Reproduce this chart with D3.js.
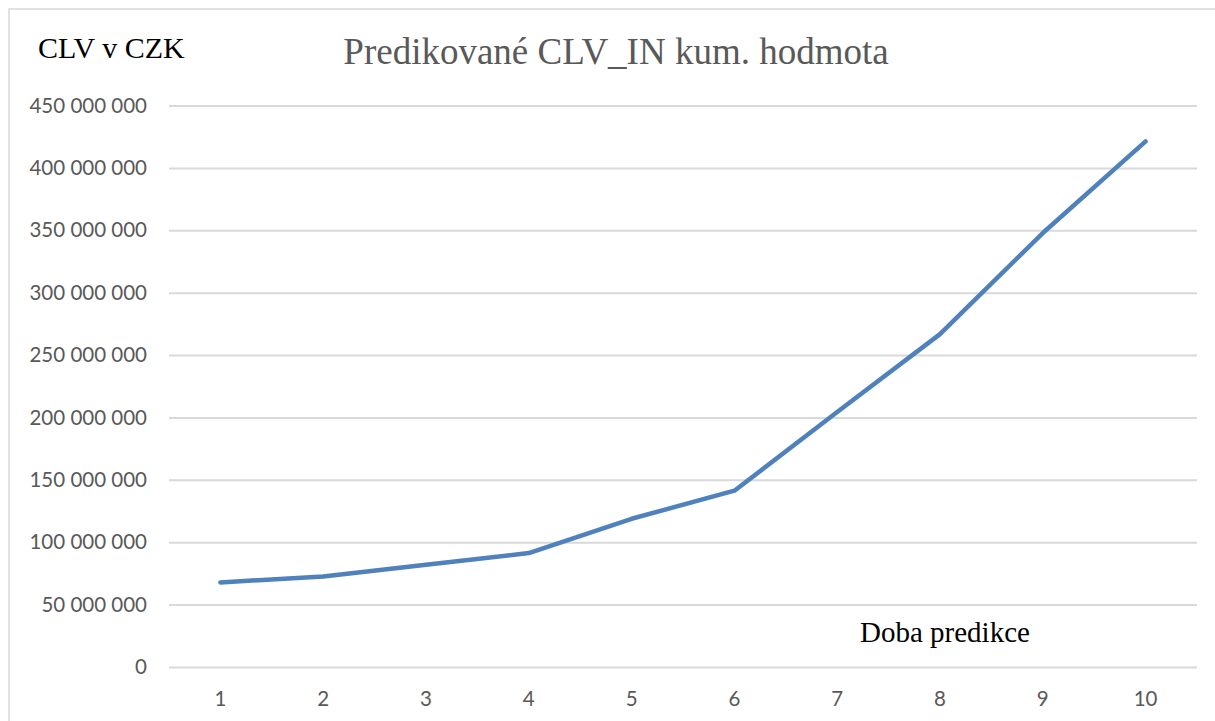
<!DOCTYPE html>
<html>
<head>
<meta charset="utf-8">
<script src="https://cdn.jsdelivr.net/npm/d3@7"></script>
<style>
  body { margin: 0; background: #fff; }
  .tick text { font-family: Lato, "Open Sans", sans-serif; fill: #595959; }
</style>
</head>
<body>
<div id="chart"></div>
<script>
// chart data
var periods = [1, 2, 3, 4, 5, 6, 7, 8, 9, 10];
var clvValues = [67800000, 72600000, 82000000, 91300000, 118800000, 141300000, 204300000, 266800000, 347800000, 421200000];
var yTicks = [0, 50000000, 100000000, 150000000, 200000000, 250000000, 300000000, 350000000, 400000000, 450000000];

var svgWidth = 1215;
var svgHeight = 721;

var margin = { top: 105.5, right: 18, bottom: 54, left: 169 };
var chartWidth = svgWidth - margin.left - margin.right;
var chartHeight = svgHeight - margin.top - margin.bottom;

var svg = d3.select("#chart").append("svg")
    .attr("width", svgWidth)
    .attr("height", svgHeight);

// outer frame
svg.append("rect")
    .attr("x", 9)
    .attr("y", 9)
    .attr("width", svgWidth + 20)
    .attr("height", svgHeight + 20)
    .attr("fill", "none")
    .attr("stroke", "#d9d9d9")
    .attr("stroke-width", 1.5);

var chartGroup = svg.append("g")
    .attr("transform", `translate(${margin.left}, ${margin.top})`);

var xScale = d3.scaleBand()
    .domain(periods)
    .range([0, chartWidth]);

var yScale = d3.scaleLinear()
    .domain([0, 450000000])
    .range([chartHeight, 0]);

var fmt = function(d) {
    return d3.format(",")(d).replace(/,/g, " ");
};

// gridlines + y labels
var leftAxis = d3.axisLeft(yScale)
    .tickValues(yTicks)
    .tickSize(-chartWidth)
    .tickPadding(22)
    .tickFormat(fmt);

var yAxisG = chartGroup.append("g").call(leftAxis);
yAxisG.select(".domain").remove();
yAxisG.selectAll(".tick line")
    .attr("stroke", "#d9d9d9")
    .attr("stroke-width", 2);
yAxisG.selectAll(".tick text")
    .style("font-size", "20.5px");

// x labels
var bottomAxis = d3.axisBottom(xScale)
    .tickSize(0)
    .tickPadding(24);

var xAxisG = chartGroup.append("g")
    .attr("transform", `translate(0, ${chartHeight})`)
    .call(bottomAxis);
xAxisG.select(".domain").remove();
xAxisG.selectAll(".tick text")
    .style("font-size", "20.5px");

// the line
var line = d3.line()
    .x(function(d, i) { return xScale(periods[i]) + xScale.bandwidth() / 2; })
    .y(function(d) { return yScale(d); });

chartGroup.append("path")
    .datum(clvValues)
    .attr("d", line)
    .attr("fill", "none")
    .attr("stroke", "#4f81bd")
    .attr("stroke-width", 4.5)
    .attr("stroke-linecap", "round")
    .attr("stroke-linejoin", "round");

// titles
svg.append("text")
    .attr("x", 616)
    .attr("y", 64)
    .attr("text-anchor", "middle")
    .style("font-family", "'Liberation Serif', serif")
    .style("font-size", "37px")
    .style("fill", "#595959")
    .text("Predikované CLV_IN kum. hodmota");

svg.append("text")
    .attr("x", 38)
    .attr("y", 58)
    .style("font-family", "'Liberation Serif', serif")
    .style("font-size", "30px")
    .style("fill", "#000")
    .text("CLV v CZK");

svg.append("text")
    .attr("x", 860)
    .attr("y", 642)
    .style("font-family", "'Liberation Serif', serif")
    .style("font-size", "29px")
    .style("fill", "#000")
    .text("Doba predikce");
</script>
</body>
</html>
